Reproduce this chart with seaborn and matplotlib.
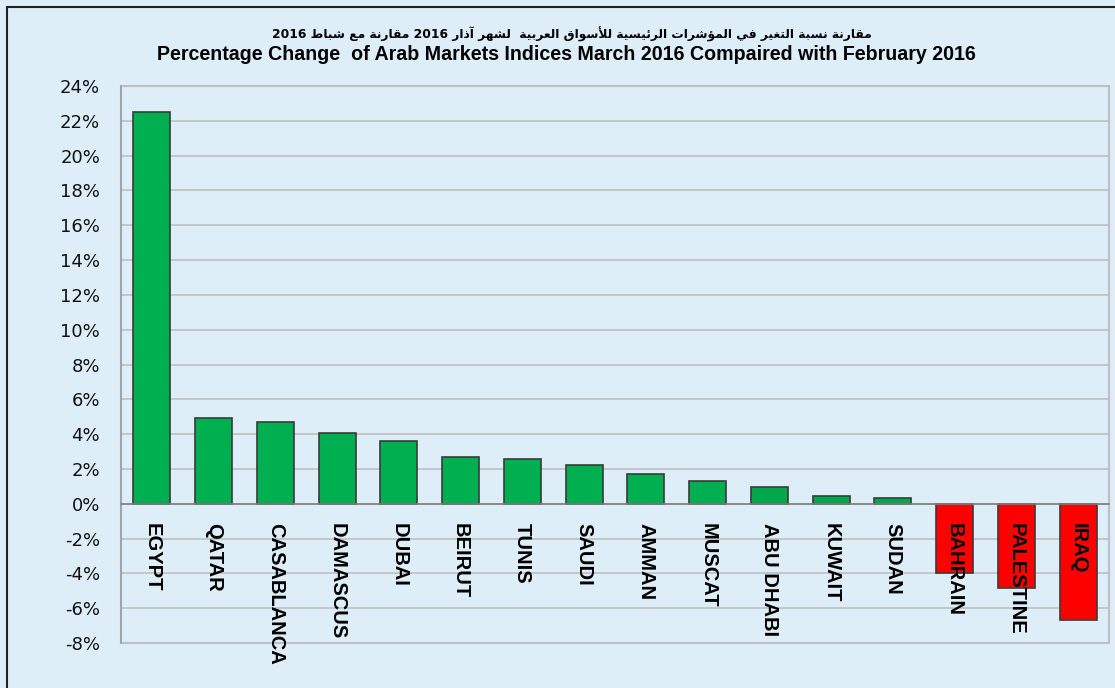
import re
import matplotlib
matplotlib.use("Agg")
import matplotlib.pyplot as plt
import matplotlib.ticker as mticker
from matplotlib.patches import Rectangle
import seaborn as sns

markets = ["EGYPT", "QATAR", "CASABLANCA", "DAMASCUS", "DUBAI", "BEIRUT", "TUNIS", "SAUDI",
           "AMMAN", "MUSCAT", "ABU DHABI", "KUWAIT", "SUDAN", "BAHRAIN", "PALESTINE", "IRAQ"]
change = [22.5, 4.9, 4.7, 4.05, 3.6, 2.7, 2.55, 2.2, 1.7, 1.3, 0.95, 0.45, 0.35, -4.0, -4.85, -6.7]

title_ar = "مقارنة نسبة التغير في المؤشرات الرئيسية للأسواق العربية  لشهر آذار 2016 مقارنة مع شباط 2016"
title_en = "Percentage Change  of Arab Markets Indices March 2016 Compaired with February 2016"

bar_colors = ["#00B050"] * 10 + ["#00A84C"] * 3 + ["#FF0000"] * 3

# arabic presentation forms (iso, fin, ini, med), matplotlib does no shaping itself
FORMS = {}
code = 0xFE80
for ch, n in zip("ءآأؤإئابةتثجحخدذرزسشصضطظعغفقكلمنهوىي",
                 [1, 2, 2, 2, 2, 4, 2, 4, 2, 4, 4, 4, 4, 4, 2, 2, 2, 2,
                  4, 4, 4, 4, 4, 4, 4, 4, 4, 4, 4, 4, 4, 4, 4, 2, 2, 4]):
    FORMS[ch] = [chr(code + k) for k in range(n)]
    code += n
LAMALEF = {"آ": 0xFEF5, "أ": 0xFEF7, "إ": 0xFEF9, "ا": 0xFEFB}


def shape(text):
    tokens = []
    i = 0
    while i < len(text):
        if text[i] == "ل" and i + 1 < len(text) and text[i + 1] in LAMALEF:
            c = LAMALEF[text[i + 1]]
            tokens.append([chr(c), chr(c + 1)])
            i += 2
        else:
            tokens.append(FORMS.get(text[i], [text[i]]))
            i += 1
    out = []
    for k, f in enumerate(tokens):
        before = k > 0 and len(tokens[k - 1]) == 4
        after = len(f) == 4 and k + 1 < len(tokens) and len(tokens[k + 1]) > 1
        if len(f) == 1:
            out.append(f[0])
        elif before and after:
            out.append(f[3])
        elif before:
            out.append(f[1])
        elif after:
            out.append(f[2])
        else:
            out.append(f[0])
    vis = "".join(out)[::-1]
    return re.sub(r"\d+", lambda m: m.group()[::-1], vis)


sns.set_theme(style="white")
plt.rcParams["axes.unicode_minus"] = False
plt.rcParams["font.family"] = ["DejaVu Sans"]

bg = "#DDEEF8"
fig = plt.figure(figsize=(11.15, 6.88), dpi=100, facecolor=bg)
fig.add_artist(Rectangle((7 / 1115, -0.1), 1.2, 1.1 - 7 / 688, transform=fig.transFigure,
                         fill=False, edgecolor="#222222", lw=1.5))
ax = fig.add_axes([121 / 1115, 1 - 643 / 688, 988 / 1115, 557 / 688])
ax.set_facecolor(bg)

sns.barplot(x=markets, y=[v / 100 for v in change], hue=markets, palette=bar_colors,
            legend=False, width=0.6, edgecolor="#3a3a3a", linewidth=1.2, saturation=1,
            ax=ax, zorder=3)

ax.set_ylim(-0.08, 0.24)
ax.set_xlim(-0.5, len(markets) - 0.5)
ax.yaxis.set_major_locator(mticker.MultipleLocator(0.02))
ax.yaxis.set_major_formatter(mticker.PercentFormatter(1, decimals=0))
ax.grid(axis="y", color="#BFBFBF", lw=1.2)
ax.set_axisbelow(True)
ax.xaxis.set_zorder(5)  # names sit on top of the negative bars

for s in ["top", "right"]:
    ax.spines[s].set_visible(False)
ax.patch.set_edgecolor("#BFBFBF")
ax.patch.set_linewidth(1.5)
ax.spines["left"].set_color("#A0A0A0")
ax.spines["bottom"].set_position(("data", 0))
ax.spines["bottom"].set_color("#808080")
ax.spines["bottom"].set_linewidth(1.2)
ax.spines["bottom"].set_zorder(4)

ax.tick_params(axis="y", length=0, pad=15, labelsize=13, labelcolor="#111111")
ax.tick_params(axis="x", which="major", length=0, pad=14)
ax.set_xticks([i + 0.5 for i in range(len(markets))], minor=True)
ax.tick_params(axis="x", which="minor", length=5, width=1.2, color="#808080", direction="out")
for lab in ax.get_xticklabels():
    lab.set_rotation(-90)
    lab.set_fontfamily("Liberation Sans")
    lab.set_fontweight("bold")
    lab.set_fontsize(14.5)
    lab.set_color("black")
ax.set_xlabel("")
ax.set_ylabel("")

fig.text(0.5 + 14 / 1115, 1 - 34 / 688, shape(title_ar), ha="center", va="center",
         fontsize=8.8, fontweight="bold", color="black", family=["DejaVu Sans"])
fig.text(0.5 + 9 / 1115, 1 - 55 / 688, title_en, ha="center", va="center",
         fontsize=14.1, fontweight="bold", color="black", family=["Liberation Sans"])

fig.savefig("out.png", dpi=100, facecolor=bg)
